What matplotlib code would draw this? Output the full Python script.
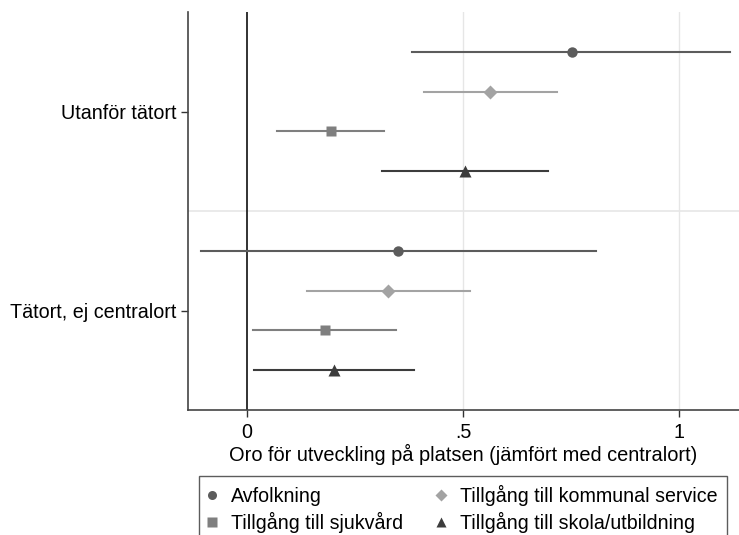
import numpy as np
import matplotlib.pyplot as plt
from matplotlib.lines import Line2D

plt.rcParams['font.family'] = ['Liberation Sans', 'DejaVu Sans']

# Coefficients and 95% CIs, per place type (top group first)
groups = ['Utanför tätort', 'Tätort, ej centralort']
series = ['Avfolkning', 'Tillgång till kommunal service',
          'Tillgång till sjukvård', 'Tillgång till skola/utbildning']
coef_utanfor = [0.751, 0.562, 0.193, 0.505]
lo_utanfor = [0.381, 0.408, 0.070, 0.313]
hi_utanfor = [1.118, 0.717, 0.317, 0.696]
coef_tatort = [0.349, 0.326, 0.179, 0.200]
lo_tatort = [-0.107, 0.138, 0.014, 0.015]
hi_tatort = [0.807, 0.515, 0.344, 0.387]

markers = ['o', 'D', 's', '^']
colors = ['#5c5c5c', '#a3a3a3', '#7f7f7f', '#3c3c3c']
msizes = [7.5, 7.5, 7.7, 9]

fig = plt.figure(figsize=(7.39, 5.35), dpi=100)
ax = fig.add_axes([188/739, 1-410/535, 1-188/739, 398/535])

for g, (coef, lo, hi) in enumerate([(coef_utanfor, lo_utanfor, hi_utanfor),
                                    (coef_tatort, lo_tatort, hi_tatort)]):
    for i in range(len(series)):
        y = 1 + i + g*5
        ax.plot([lo[i], hi[i]], [y, y], color=colors[i], lw=1.5, zorder=3)
        ax.plot(coef[i], y, marker=markers[i], color=colors[i], ms=msizes[i],
                mec='none', zorder=4)

ax.axvline(0, color='#222222', lw=1.3, zorder=2)
ax.axhline(5, color='#e6e6e6', lw=1.2, zorder=1)
for xv in [0.5, 1.0]:
    ax.axvline(xv, color='#e6e6e6', lw=1.0, zorder=1)

ax.set_xlim(-0.137, 1.138)
ax.set_ylim(10, 0)
ax.set_xticks([0, 0.5, 1])
ax.set_xticklabels(['0', '.5', '1'])
ax.set_yticks([2.5, 7.5])
ax.set_yticklabels(groups)
ax.tick_params(axis='both', labelsize=14.2, length=5, color='#333333', width=1)
ax.tick_params(axis='x', pad=4)
ax.set_xlabel('Oro för utveckling på platsen (jämfört med centralort)', fontsize=14.4, labelpad=2)

for s in ['top', 'right']:
    ax.spines[s].set_visible(False)
for s in ['left', 'bottom']:
    ax.spines[s].set_color('#444444')
    ax.spines[s].set_linewidth(1.2)

# legend fills row-wise like Stata: reorder for matplotlib's column fill
order = [0, 2, 1, 3]
handles = [Line2D([], [], ls='none', marker=markers[i], color=colors[i],
                  ms=6.5, mec='none') for i in order]
labels = [series[i] for i in order]
leg = fig.legend(handles, labels, ncol=2, loc='upper left',
                 bbox_to_anchor=(199/739, 1-476/535), fontsize=14.1,
                 frameon=True, fancybox=False, edgecolor='#333333',
                 handlelength=0.4, handletextpad=0.8, columnspacing=1.7,
                 borderpad=0.45, labelspacing=0.3, borderaxespad=0)
leg.get_frame().set_linewidth(1.0)

fig.savefig('out.png', dpi=100)
